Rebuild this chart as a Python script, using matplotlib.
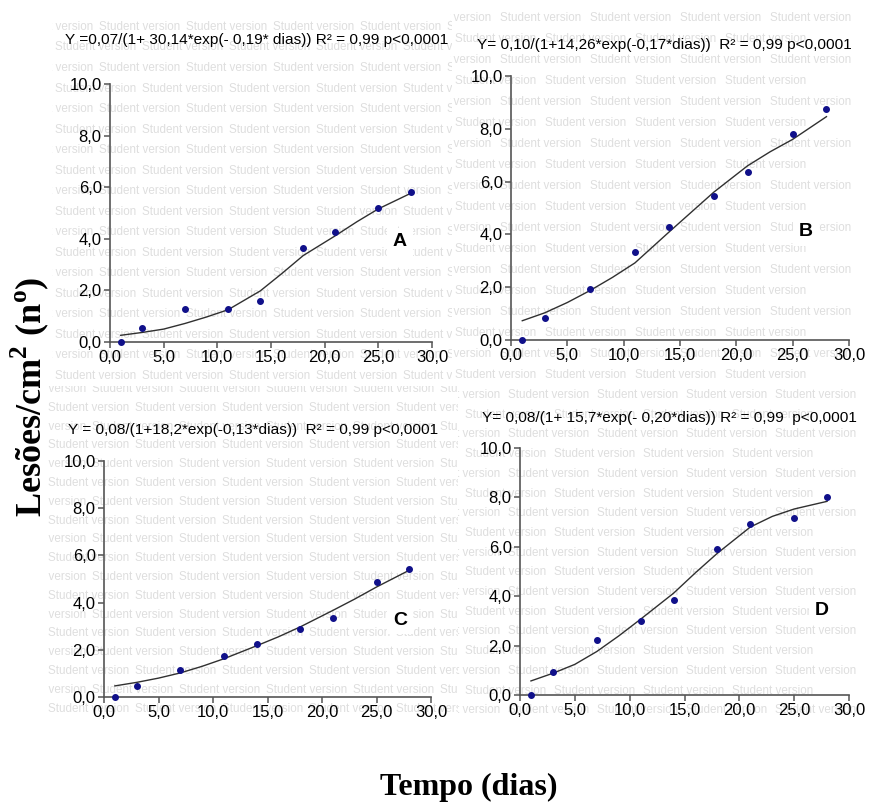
import matplotlib
matplotlib.use("Agg")
import matplotlib.pyplot as plt
from matplotlib.ticker import FuncFormatter, MultipleLocator

# observed lesion counts (days after inoculation)
days = [1, 3, 7, 11, 14, 18, 21, 25, 28]
obs_a = [0.0, 0.56, 1.26, 1.26, 1.58, 3.66, 4.25, 5.21, 5.80]
obs_b = [0.0, 0.85, 1.92, 3.32, 4.27, 5.47, 6.36, 7.82, 8.75]
obs_c = [0.0, 0.47, 1.13, 1.74, 2.25, 2.87, 3.33, 4.87, 5.44]
obs_d = [0.0, 0.92, 2.24, 3.00, 3.84, 5.93, 6.93, 7.16, 8.00]

# fitted curves
fit_days = [1, 3, 5, 7, 9, 11, 14, 16, 18, 21, 23, 25, 28]
fit_a = [0.26, 0.37, 0.50, 0.72, 0.97, 1.25, 1.98, 2.65, 3.35, 4.12, 4.66, 5.16, 5.76]
fit_b = [0.73, 1.03, 1.42, 1.87, 2.37, 2.92, 4.08, 4.84, 5.60, 6.60, 7.13, 7.60, 8.46]
fit_c = [0.47, 0.62, 0.80, 1.02, 1.30, 1.62, 2.17, 2.55, 2.97, 3.67, 4.15, 4.66, 5.37]
fit_d = [0.57, 0.88, 1.24, 1.76, 2.39, 3.07, 4.12, 4.95, 5.74, 6.80, 7.23, 7.53, 7.84]

equations = [
    "Y =0,07/(1+ 30,14*exp(- 0,19* dias)) R\u00b2 = 0,99 p<0,0001",
    "Y= 0,10/(1+14,26*exp(-0,17*dias))  R\u00b2 = 0,99 p<0,0001",
    "Y = 0,08/(1+18,2*exp(-0,13*dias))  R\u00b2 = 0,99 p<0,0001",
    "Y= 0,08/(1+ 15,7*exp(- 0,20*dias)) R\u00b2 = 0,99  p<0,0001",
]
letters = ["A", "B", "C", "D"]

W, H = 871, 805
plt.rcParams["mathtext.fontset"] = "custom"
plt.rcParams["mathtext.rm"] = "Liberation Serif"
plt.rcParams["mathtext.bf"] = "Liberation Serif:bold"

fig = plt.figure(figsize=(W / 100, H / 100), dpi=100)


def rect(x0, x1, ytop, ybot):
    return [x0 / W, 1 - ybot / H, (x1 - x0) / W, (ybot - ytop) / H]


# panel layout in pixels
axes_px = [(110, 432, 84, 342), (511, 849, 76, 340),
           (104, 431, 461, 697), (520, 849, 448, 695)]
# watermark: box, first row y, row step, column step, even/odd row start x
mark_px = [(52, 452, 18, 382, 27, 20.5, 87, 99, 55),
           (450, 871, 8, 380, 18, 21.0, 90, 500, 455),
           (46, 458, 386, 728, 389, 18.8, 87, 92, 48),
           (458, 871, 380, 728, 395, 19.7, 89, 508, 465)]
title_px = [(257, 40), (664, 45), (253, 430), (669, 418)]
letter_px = [(400, 242), (806, 232), (400, 620), (822, 610)]

obs_all = [obs_a, obs_b, obs_c, obs_d]
fit_all = [fit_a, fit_b, fit_c, fit_d]

for i in range(4):
    # "Student version" watermark behind each panel
    bx0, bx1, by0, by1, ry, rstep, cstep, even_x, odd_x = mark_px[i]
    bg = fig.add_axes(rect(bx0, bx1, by0, by1), zorder=0)
    bg.set_axis_off()
    bg.set_xlim(bx0, bx1)
    bg.set_ylim(by1, by0)
    row = 0
    yy = ry
    while yy < by1 - 4:
        xx = odd_x if row % 2 else even_x
        while xx - cstep > bx0 - 78:
            xx -= cstep
        while xx < bx1:
            if xx + 78 <= W:
                bg.text(xx, yy, "Student version", color="#dedede",
                        fontsize=8.4,
                        family=["Liberation Sans Narrow", "Liberation Sans"],
                        va="center", ha="left", clip_on=True)
            xx += cstep
        yy += rstep
        row += 1

    x0, x1, yt, yb = axes_px[i]
    ax = fig.add_axes(rect(x0, x1, yt, yb), zorder=2)
    ax.patch.set_alpha(0)
    ax.plot(fit_days, fit_all[i], color="#303030", lw=1.0, zorder=3)
    ax.scatter(days, obs_all[i], s=16, color="#10108a", zorder=4, clip_on=False)
    ax.set_xlim(0, 30)
    ax.set_ylim(0, 10)
    ax.xaxis.set_major_locator(MultipleLocator(5))
    ax.yaxis.set_major_locator(MultipleLocator(2))
    fmt = FuncFormatter(lambda v, p: f"{v:.1f}".replace(".", ","))
    ax.xaxis.set_major_formatter(fmt)
    ax.yaxis.set_major_formatter(fmt)
    for s in ["top", "right"]:
        ax.spines[s].set_visible(False)
    for s in ["left", "bottom"]:
        ax.spines[s].set_color("#555555")
        ax.spines[s].set_linewidth(1.2)
    ax.tick_params(direction="out", length=4, width=1.1, color="#555555",
                   labelsize=12, pad=2)
    for lab in ax.get_xticklabels() + ax.get_yticklabels():
        lab.set_family("Liberation Sans")

    tx, ty = title_px[i]
    fig.text(tx / W, 1 - ty / H, equations[i], ha="center", va="center",
             fontsize=11.1, family="Liberation Sans", zorder=3)
    lx, ly = letter_px[i]
    fig.text(lx / W, 1 - ly / H, letters[i], ha="center", va="center",
             fontsize=14, fontweight="bold", family="Liberation Sans", zorder=3,
             bbox=dict(facecolor="white", edgecolor="none", pad=4))

fig.text(30 / W, 1 - 397 / H, r"Lesões/cm$^{\mathbf{2}}$ (n$^{\mathbf{o}}$)",
         rotation=90, ha="center", va="center", fontsize=26,
         fontweight="bold", family="Liberation Serif")
fig.text(469 / W, 1 - 787 / H, "Tempo (dias)", ha="center", va="center",
         fontsize=23, fontweight="bold", family="Liberation Serif")

fig.savefig("out.png", dpi=100)
